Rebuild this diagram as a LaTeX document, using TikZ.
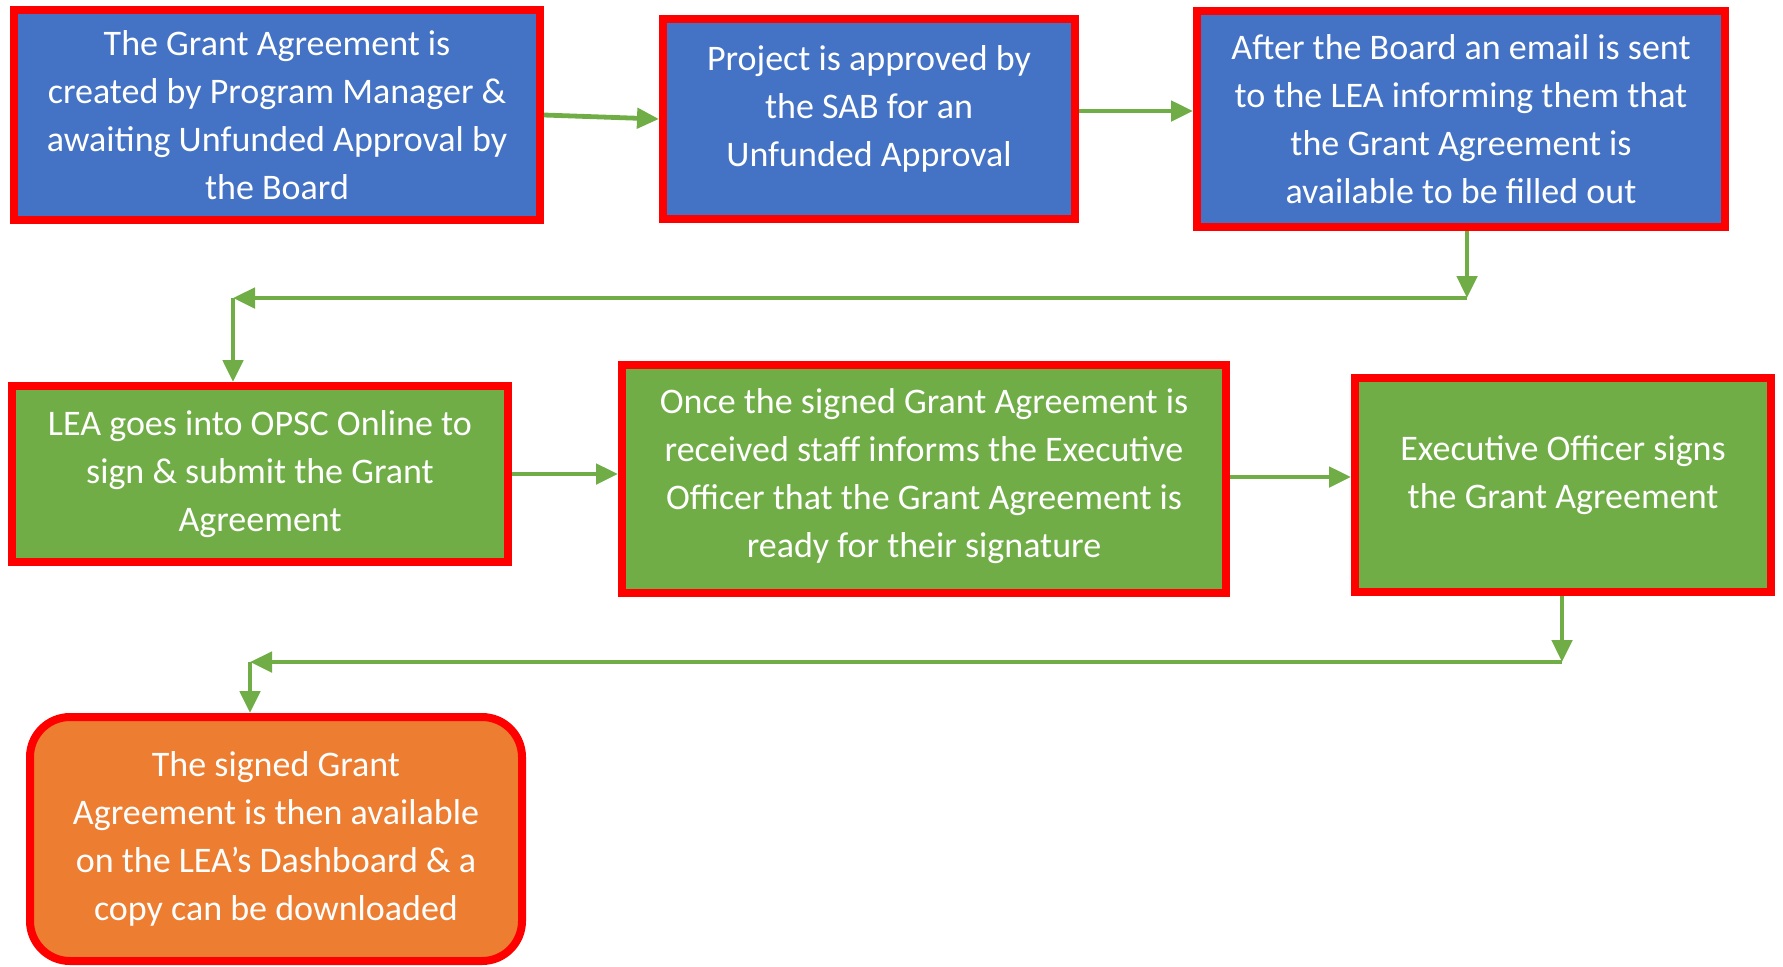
\documentclass[tikz,border=0pt]{standalone}
\usepackage{fontspec}
\setmainfont{Carlito}
\usepackage{xcolor}
\usetikzlibrary{positioning,calc,arrows.meta}

\definecolor{boxblue}{HTML}{4472C4}
\definecolor{boxgreen}{HTML}{70AD47}
\definecolor{boxorange}{HTML}{ED7D31}
\definecolor{edgered}{HTML}{FF0000}
\definecolor{linkgreen}{HTML}{70AD47}

\tikzset{
    stepbox/.style={draw=edgered, line width=4pt, text=white, align=center,
        font=\fontsize{18}{24}\selectfont, inner sep=2pt},
    bluebox/.style={stepbox, fill=boxblue},
    greenbox/.style={stepbox, fill=boxgreen},
    endbox/.style={stepbox, fill=boxorange, rounded corners=20pt},
    link/.style={draw=linkgreen, line width=2.4pt, -{Triangle[length=11pt,width=10pt]}}
}

\begin{document}
\begin{tikzpicture}[x=0.5pt, y=-0.5pt]
    \useasboundingbox (0,0) rectangle (1783,966);

    % Row 1
    \node[bluebox, minimum width=263pt, minimum height=105pt] (create) at (277,115) {The Grant Agreement is\\created by Program Manager \&\\awaiting Unfunded Approval by\\the Board};
    \node[bluebox, minimum width=206pt, minimum height=100pt] (approve) at (869,119) {Project is approved by\\the SAB for an\\Unfunded Approval\\[-11pt]};
    \node[bluebox, minimum width=264pt, minimum height=108pt] (email) at (1461,119) {After the Board an email is sent\\to the LEA informing them that\\the Grant Agreement is\\available to be filled out};

    % Row 2
    \node[greenbox, minimum width=248pt, minimum height=88pt] (submit) at (260,474) {LEA goes into OPSC Online to\\sign \& submit the Grant\\Agreement};
    \node[greenbox, minimum width=302pt, minimum height=114pt] (inform) at (924,479) {Once the signed Grant Agreement is\\received staff informs the Executive\\Officer that the Grant Agreement is\\ready for their signature\\[-18pt]};
    \node[greenbox, minimum width=208pt, minimum height=107pt] (signs) at (1563,485) {Executive Officer signs\\the Grant Agreement\\[-11pt]};

    % Row 3
    \node[endbox, minimum width=246pt, minimum height=122pt] (done) at (276,839) {The signed Grant\\Agreement is then available\\on the LEA's Dashboard \& a\\copy can be downloaded};

    % Turn points
    \coordinate (turnA) at (1467,298);
    \coordinate (turnB) at (233,298);
    \coordinate (turnC) at (1562,662);
    \coordinate (turnD) at (250,662);

    % Connections
    \draw[link] (create.east) -- (approve.west);
    \draw[link] ([yshift=4pt]approve.east) -- ([yshift=4pt]approve.east -| email.west);
    \draw[link] (email.south -| turnA) -- (turnA);
    \draw[link] (turnA) -- (turnB);
    \draw[link] (turnB) -- (turnB |- submit.north);
    \draw[link] (submit.east) -- (submit.east -| inform.west);
    \draw[link] ([yshift=1pt]inform.east) -- ([yshift=1pt]inform.east -| signs.west);
    \draw[link] (signs.south -| turnC) -- (turnC);
    \draw[link] (turnC) -- (turnD);
    \draw[link] (turnD) -- (turnD |- done.north);

\end{tikzpicture}
\end{document}
